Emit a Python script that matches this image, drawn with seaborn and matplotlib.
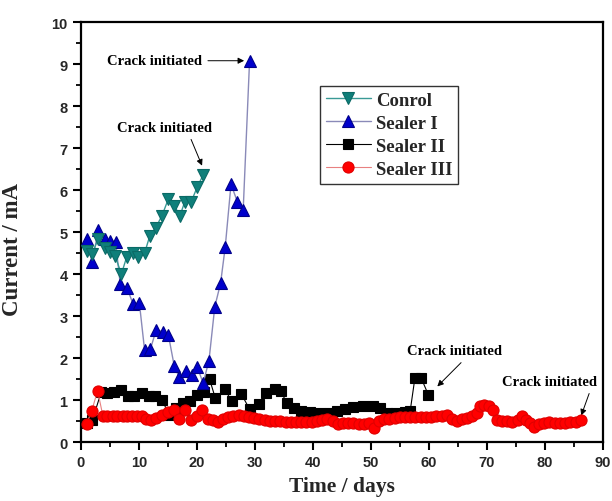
import matplotlib
matplotlib.use("Agg")
import matplotlib.pyplot as plt
import seaborn as sns
from matplotlib.ticker import MultipleLocator

# ---------------- data ----------------
days_control = [1.0, 1.9, 3.0, 4.1, 5.0, 5.9, 7.0, 7.9, 9.0, 9.9, 11.0, 11.9, 12.9, 14.0,
                15.1, 16.1, 17.1, 17.9, 19.0, 20.1, 21.1]
cur_control = [4.55, 4.48, 4.83, 4.62, 4.52, 4.44, 4.0, 4.4, 4.5, 4.4, 4.5, 4.91, 5.1, 5.39,
               5.79, 5.63, 5.39, 5.71, 5.71, 6.08, 6.36]

days_s1 = [1.0, 2.0, 3.0, 4.1, 5.0, 6.0, 6.8, 8.0, 9.0, 10.1, 11.0, 12.0, 13.0, 14.1, 15.1,
           16.1, 16.9, 18.1, 19.1, 20.1, 21.1, 22.1, 23.1, 24.1, 24.9, 25.9, 27.0, 28.0, 29.1]
cur_s1 = [4.83, 4.28, 5.05, 4.83, 4.79, 4.77, 3.76, 3.66, 3.29, 3.31, 2.19, 2.21, 2.67, 2.63, 2.55,
          1.82, 1.56, 1.70, 1.60, 1.78, 1.40, 1.94, 3.22, 3.78, 4.64, 6.14, 5.72, 5.53, 9.08]

days_s2 = [1.0, 2.0, 3.5, 4.6, 5.8, 7.0, 8.1, 9.2, 10.6, 11.7, 12.8, 14.0, 15.2, 16.4, 17.6,
           18.8, 20.0, 21.2, 22.2, 23.2, 24.8, 26.0, 27.7, 29.1, 30.8, 32.0, 33.5, 34.5, 35.5,
           36.7, 38.0, 39.6, 41.3, 43.0, 44.2, 45.5, 47.0, 48.7, 50.4, 51.6, 52.8, 54.3, 55.9,
           56.8, 57.6, 58.7, 59.9]
cur_s2 = [0.45, 0.52, 1.18, 1.16, 1.18, 1.25, 1.09, 1.10, 1.16, 1.10, 1.10, 1.01, 0.65, 0.80, 0.94,
          0.98, 1.12, 1.20, 1.50, 1.04, 1.26, 0.98, 1.14, 0.78, 0.90, 1.16, 1.26, 1.22, 0.92,
          0.82, 0.75, 0.72, 0.70, 0.70, 0.75, 0.79, 0.83, 0.86, 0.86, 0.80, 0.70, 0.68, 0.72,
          0.75, 1.52, 1.52, 1.13]

days_s3 = [1.0, 1.9, 2.9, 3.8, 4.6, 5.5, 6.3, 7.2, 8.0, 8.9, 9.7, 10.5, 11.3, 12.1, 13.0, 14.0,
           15.1, 16.1, 16.9, 17.9, 19.0, 20.0, 20.9, 21.9, 22.8, 23.6, 24.5, 25.4, 26.3, 27.2,
           28.1, 29.0, 29.9, 30.8, 31.7, 32.6, 33.5, 34.4, 35.3, 36.2, 37.1, 38.0, 38.9, 39.8,
           40.7, 41.6, 42.5, 43.4, 44.3, 45.2, 46.1, 47.0, 47.9, 48.8, 49.7, 50.6, 51.4, 52.3,
           53.2, 54.1, 55.0, 55.9, 56.8, 57.7, 58.6, 59.5, 60.4, 61.3, 62.2, 63.1, 64.0, 64.8,
           65.7, 66.6, 67.5, 68.3, 68.9, 69.6, 70.3, 71.0, 71.7, 72.6, 73.5, 74.4, 75.3, 76.0,
           76.7, 77.5, 78.2, 79.0, 79.9, 80.8, 81.7, 82.6, 83.5, 84.4, 85.3, 86.2]
cur_s3 = [0.43, 0.75, 1.22, 0.63, 0.62, 0.62, 0.62, 0.62, 0.62, 0.63, 0.62, 0.63, 0.55, 0.53, 0.57,
          0.64, 0.71, 0.77, 0.55, 0.76, 0.53, 0.63, 0.76, 0.55, 0.52, 0.47, 0.55, 0.60, 0.63,
          0.65, 0.62, 0.60, 0.57, 0.55, 0.53, 0.51, 0.50, 0.49, 0.48, 0.47, 0.47, 0.47, 0.47,
          0.48, 0.50, 0.52, 0.55, 0.50, 0.44, 0.45, 0.46, 0.45, 0.43, 0.44, 0.45, 0.33, 0.50,
          0.55, 0.55, 0.58, 0.60, 0.60, 0.59, 0.59, 0.60, 0.60, 0.60, 0.62, 0.63, 0.65, 0.55,
          0.50, 0.54, 0.58, 0.63, 0.70, 0.86, 0.88, 0.86, 0.76, 0.52, 0.50, 0.50, 0.48, 0.52,
          0.62, 0.52, 0.45, 0.35, 0.44, 0.45, 0.47, 0.46, 0.45, 0.46, 0.47, 0.48, 0.52]

series_labels = ["Conrol", "Sealer I", "Sealer II", "Sealer III"]
annot_text = "Crack initiated"

# ---------------- style ----------------
sns.set_style("ticks")
plt.rcParams["font.family"] = ["Liberation Sans", "DejaVu Sans"]
serif = ["Liberation Serif", "DejaVu Serif"]

fig = plt.figure(figsize=(6.12, 5.02), dpi=100)
ax = fig.add_axes([0.132, 0.1175, 0.853, 0.8365])

common = dict(ax=ax, sort=False, estimator=None, markeredgewidth=0.8)

sns.lineplot(x=days_s2, y=cur_s2, color="#000000", linewidth=0.8, marker="s",
             markersize=7, markerfacecolor="#000000", markeredgecolor="#000000",
             label=series_labels[2], zorder=3, **common)
sns.lineplot(x=days_s3, y=cur_s3, color="#e88080", linewidth=0.8, marker="o",
             markersize=8, markerfacecolor="#ff0000", markeredgecolor="#e00000",
             label=series_labels[3], zorder=4, **common)
sns.lineplot(x=days_s1, y=cur_s1, color="#8a8ab8", linewidth=1.0, marker="^",
             markersize=9, markerfacecolor="#0000cc", markeredgecolor="#00008a",
             label=series_labels[1], zorder=5, **common)
sns.lineplot(x=days_control, y=cur_control, color="#3a9a96", linewidth=1.0, marker="v",
             markersize=9, markerfacecolor="#0f7f7a", markeredgecolor="#0a6a66",
             label=series_labels[0], zorder=6, **common)

ax.set_xlim(0, 90)
ax.set_ylim(0, 10)
ax.xaxis.set_major_locator(MultipleLocator(10))
ax.xaxis.set_minor_locator(MultipleLocator(5))
ax.yaxis.set_major_locator(MultipleLocator(1))
ax.yaxis.set_minor_locator(MultipleLocator(0.5))
ax.tick_params(axis="both", which="major", direction="out", length=6, width=1.5,
               labelsize=10.5, color="black")
ax.tick_params(axis="both", which="minor", direction="out", length=3.5, width=1.3,
               color="black")
for lab in ax.get_xticklabels() + ax.get_yticklabels():
    lab.set_fontweight("bold")
for sp in ax.spines.values():
    sp.set_visible(True)
    sp.set_linewidth(1.6)
    sp.set_color("black")

ax.set_xlabel("Time / days", fontsize=15.5, fontweight="bold", family=serif)
ax.set_ylabel("Current / mA", fontsize=16.5, fontweight="bold", family=serif)
ax.xaxis.set_label_coords(0.5, -0.082)
ax.yaxis.set_label_coords(-0.11, 0.46)

# legend
handles, labels = ax.get_legend_handles_labels()
order = [labels.index(l) for l in series_labels]
leg = ax.legend([handles[i] for i in order], [labels[i] for i in order],
                loc="upper left", bbox_to_anchor=(0.458, 0.848), borderaxespad=0,
                frameon=True, fancybox=False, edgecolor="black", handlelength=2.4,
                handletextpad=0.3, labelspacing=0.32, borderpad=0.3,
                prop={"family": serif, "weight": "bold", "size": 13.5})
leg.get_frame().set_linewidth(1.0)

# annotations
ann_kw = dict(fontsize=10.5, fontweight="bold", family=serif, color="black")
arrow = dict(arrowstyle="-|>", color="black", lw=0.7, mutation_scale=9, shrinkA=2, shrinkB=1)
ax.annotate(annot_text, xy=(28.4, 9.08), xytext=(4.5, 9.08), ha="left", va="center",
            arrowprops=arrow, **ann_kw)
ax.annotate(annot_text, xy=(21.0, 6.55), xytext=(14.5, 7.5), ha="center", va="center",
            arrowprops=dict(arrow, relpos=(0.75, 0.0)), **ann_kw)
ax.annotate(annot_text, xy=(61.3, 1.3), xytext=(64.5, 2.17), ha="center", va="center",
            arrowprops=dict(arrow, relpos=(0.62, 0.0)), **ann_kw)
ax.annotate(annot_text, xy=(86.2, 0.6), xytext=(80.8, 1.45), ha="center", va="center",
            arrowprops=dict(arrow, relpos=(0.94, 0.0)), **ann_kw)

fig.savefig("out.png", dpi=100)
